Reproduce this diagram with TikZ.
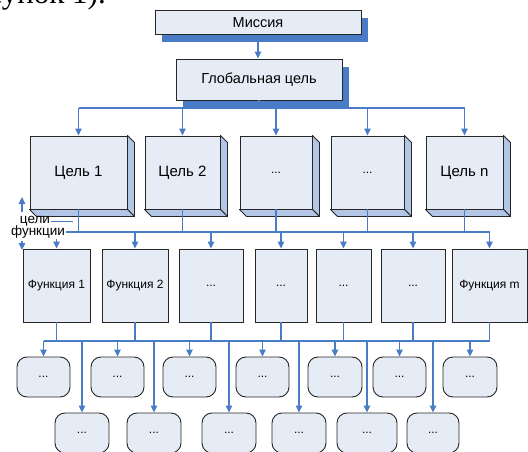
\documentclass[tikz,border=0pt]{standalone}
\usepackage{fontspec}
\setmainfont{Liberation Sans}
\newfontfamily\pageserif{Liberation Serif}
\usetikzlibrary{arrows.meta,calc,shadows}
\definecolor{boxfill}{HTML}{E6ECF6}
\definecolor{conblue}{HTML}{4A7BC6}
\definecolor{sideblue}{HTML}{B3C6E6}
\definecolor{edge}{HTML}{262626}
\begin{document}
\begin{tikzpicture}[x=1pt,y=-1pt,
  box/.style={draw=edge,fill=boxfill,line width=0.9pt,inner sep=1pt},
  topbox/.style={box,font=\fontsize{14.5}{17}\selectfont,
     drop shadow={shadow xshift=7pt,shadow yshift=-8pt,fill=conblue,opacity=1,draw=none}},
  goal/.style={box,minimum height=73pt,font=\fontsize{15}{18}\selectfont},
  func/.style={box,minimum height=73pt,font=\fontsize{12}{14}\selectfont},
  leaf/.style={box,rounded corners=10pt,minimum height=40pt,font=\fontsize{12}{14}\selectfont},
  side/.style={draw=edge,fill=sideblue,line width=0.9pt,line join=round},
  conn/.style={draw=conblue,line width=1.3pt},
  arr/.style={conn,-{Triangle[length=7pt,width=6.5pt]}},
  lab/.style={font=\fontsize{13.5}{15}\selectfont,inner sep=1pt}
]
\clip (0,0) rectangle (528,452);
\fill[white] (0,0) rectangle (528,452);

\node[anchor=base east,font=\pageserif\fontsize{31}{33}\selectfont,inner sep=0pt] (pg) at (106,4) {(рисунок 1).};

% top boxes
\node[topbox,minimum width=206pt,minimum height=24pt] (mis) at (258,22.5) {Миссия};
\node[topbox,minimum width=166pt,minimum height=41pt] (gl) at (259,79.5) {Глобальная цель};
\draw[arr] (mis.south) -- (gl.north -| mis.south);

% goals
\node[goal,minimum width=97pt] (g1) at (78.5,172.5) {Цель 1};
\node[goal,minimum width=75pt] (g2) at (182.5,172.5) {Цель 2};
\node[goal,minimum width=72pt,font=\fontsize{12}{14}\selectfont] (g3) at (276,172.5) {...};
\node[goal,minimum width=73pt,font=\fontsize{12}{14}\selectfont] (g4) at (367.5,172.5) {...};
\node[goal,minimum width=77pt] (g5) at (464.5,172.5) {Цель n};
\foreach \g in {g1,g2,g3,g4,g5}{
  \filldraw[side] (\g.north east) -- ++(7,7) -- ($(\g.south east)+(7,7)$) -- (\g.south east) -- cycle;
  \filldraw[side] (\g.south west) -- ++(7,7) -- ($(\g.south east)+(7,7)$) -- (\g.south east) -- cycle;
}

\coordinate (ba) at (258,108);
\draw[conn] (gl.south) -- (gl.south |- ba);
\draw[conn] (ba -| g1.north) -- (ba -| g5.north);
\foreach \g in {g1,g2,g3,g4,g5}{
  \draw[arr] (ba -| \g.north) -- (\g.north);
}

% functions
\node[func,minimum width=67pt] (f1) at (56.5,285.5) {Функция 1};
\node[func,minimum width=66pt] (f2) at (135,285.5) {Функция 2};
\node[func,minimum width=64pt] (f3) at (211,285.5) {...};
\node[func,minimum width=52pt] (f4) at (281,285.5) {...};
\node[func,minimum width=55pt] (f5) at (343.5,285.5) {...};
\node[func,minimum width=64pt] (f6) at (413,285.5) {...};
\node[func,minimum width=75pt] (f7) at (489.5,285.5) {Функция m};

\coordinate (bb) at (56,232);
\foreach \g in {g1,g2,g3,g4,g5}{
  \draw[conn] (\g.south) -- (\g.south |- bb);
}
\draw[conn] (bb -| f1.north) -- (bb -| f7.north);
\foreach \f in {f1,f2,f3,f4,f5,f6,f7}{
  \draw[arr] (bb -| \f.north) -- (\f.north);
}

% legend
\node[lab,fill=white] (lf) at (38,232) {функции};
\node[lab] (lc) at (35,221) {цели};
\coordinate (lce) at (73,221);
\draw[conn,line width=0.8pt] (lc.east) -- (lce);
\coordinate (lu0) at (22,212);
\coordinate (lu1) at (22,197);
\draw[arr] (lu0) -- (lu1);
\coordinate (ld0) at (22,241);
\coordinate (ld1) at (22,250);
\draw[arr] (ld0) -- (ld1);

% leaves
\node[leaf,minimum width=53pt] (r1) at (43.5,377) {...};
\node[leaf,minimum width=53pt] (r2) at (117.5,377) {...};
\node[leaf,minimum width=53pt] (r3) at (189.5,377) {...};
\node[leaf,minimum width=53pt] (r4) at (262.5,377) {...};
\node[leaf,minimum width=54pt] (r5) at (335,377) {...};
\node[leaf,minimum width=53pt] (r6) at (399.5,377) {...};
\node[leaf,minimum width=54pt] (r7) at (470,377) {...};
\node[leaf,minimum width=54pt] (s1) at (82,433) {...};
\node[leaf,minimum width=54pt] (s2) at (154,433) {...};
\node[leaf,minimum width=54pt] (s3) at (229,433) {...};
\node[leaf,minimum width=54pt] (s4) at (299,433) {...};
\node[leaf,minimum width=60pt] (s5) at (367,433) {...};
\node[leaf,minimum width=52pt] (s6) at (433,433) {...};

\coordinate (bc) at (43,341);
\foreach \f in {f1,f2,f3,f4,f5,f6,f7}{
  \draw[conn] (\f.south) -- (\f.south |- bc);
}
\draw[conn] (bc -| r1.north) -- (bc -| f7.south);
\foreach \r in {r1,r2,r3,r4,r5,r6,r7,s1,s2,s3,s4,s5,s6}{
  \draw[arr] (bc -| \r.north) -- (\r.north);
}
\end{tikzpicture}
\end{document}
